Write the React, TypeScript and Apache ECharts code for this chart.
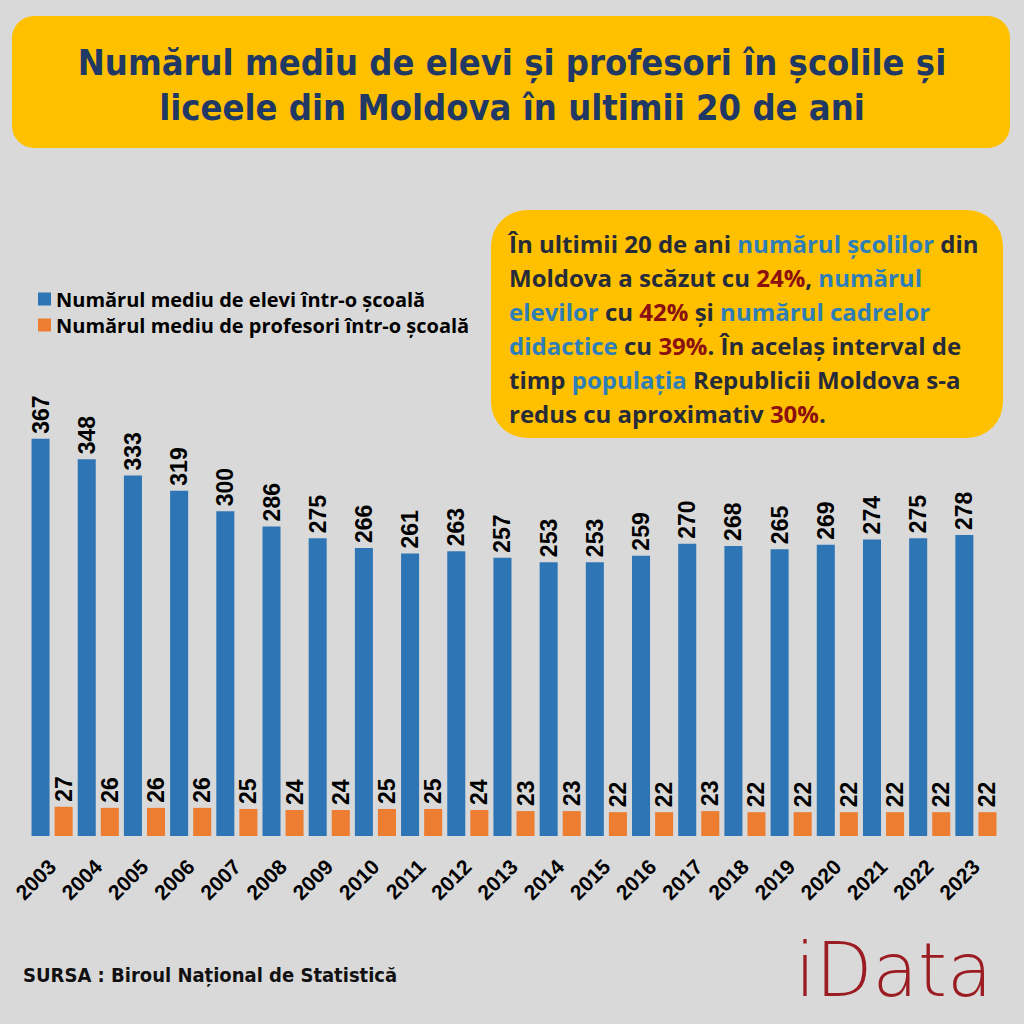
import React, { useEffect, useRef } from "react";
import * as echarts from "echarts";

const years = ["2003","2004","2005","2006","2007","2008","2009","2010","2011","2012","2013","2014","2015","2016","2017","2018","2019","2020","2021","2022","2023"];
const students = [367,348,333,319,300,286,275,266,261,263,257,253,253,259,270,268,265,269,274,275,278];
const teachers = [27,26,26,26,25,24,24,25,25,24,23,23,22,22,23,22,22,22,22,22,22];
const seriesNames = ["Numărul mediu de elevi într-o școală", "Numărul mediu de profesori într-o școală"];
const titleLines = ["Numărul mediu de elevi și profesori în școlile și", "liceele din Moldova în ultimii 20 de ani"];
const noteText =
  "{d|În ultimii 20 de ani }{b|numărul școlilor}{d| din}\n" +
  "{d|Moldova a scăzut cu }{r|24%}{d|, }{b|numărul}\n" +
  "{b|elevilor}{d| cu }{r|42%}{d| și }{b|numărul cadrelor}\n" +
  "{b|didactice}{d| cu }{r|39%}{d|. În acelaș interval de}\n" +
  "{d|timp }{b|populația}{d| Republicii Moldova s-a}\n" +
  "{d|redus cu aproximativ }{r|30%}{d|.}";
const sourceText = "SURSA : Biroul Național de Statistică";
const logoText = "iData";

const BLUE = "#2E75B6";
const ORANGE = "#ED7D31";
const YELLOW = "#FFC000";
const BG = "#D9D9D9";

export default function App() {
  const ref = useRef<HTMLDivElement>(null);
  useEffect(() => {
    document.body.style.margin = "0";
    const chart = echarts.init(ref.current!, null, { renderer: "svg" });
    const labelStyle = {
      show: true,
      position: "top" as const,
      rotate: 90,
      align: "left" as const,
      verticalAlign: "middle" as const,
      distance: 5,
      fontSize: 23,
      fontWeight: "bold" as const,
      color: "#000",
      fontFamily: "Liberation Sans",
    };
    const noteFont = { fontSize: 24, fontWeight: "bold" as const, fontFamily: "Open Sans", lineHeight: 34 };
    chart.setOption({
      animation: false,
      backgroundColor: BG,
      legend: {
        orient: "vertical",
        left: 33,
        top: 284,
        icon: "rect",
        itemWidth: 13,
        itemHeight: 13,
        itemGap: 6,
        textStyle: { fontSize: 20, fontWeight: "bold", color: "#000", fontFamily: "Open Sans" },
        data: seriesNames,
      },
      grid: { left: 29, right: 25, top: 403, bottom: 188, containLabel: false },
      xAxis: {
        type: "category",
        data: years,
        axisLine: { show: false },
        axisTick: { show: false },
        axisLabel: {
          rotate: 45,
          margin: 27,
          fontSize: 21,
          fontWeight: "bold",
          color: "#000",
          fontFamily: "Liberation Sans",
          interval: 0,
        },
      },
      yAxis: { type: "value", min: 0, max: 400, show: false, splitLine: { show: false } },
      series: [
        {
          name: seriesNames[0],
          type: "bar",
          data: students,
          itemStyle: { color: BLUE },
          barGap: "28%",
          barCategoryGap: "11%",
          label: labelStyle,
        },
        {
          name: seriesNames[1],
          type: "bar",
          data: teachers,
          itemStyle: { color: ORANGE },
          label: labelStyle,
        },
      ],
      graphic: [
        { type: "rect", shape: { x: 12, y: 16, width: 998, height: 132, r: 22 }, style: { fill: YELLOW }, z: 0 },
        {
          type: "text",
          x: 512,
          y: 62,
          style: {
            text: titleLines[0],
            fill: "#1F3864",
            fontSize: 36,
            fontWeight: "bold",
            fontFamily: "DejaVu Sans Condensed",
            textAlign: "center",
            textVerticalAlign: "middle",
          },
          z: 1,
        },
        {
          type: "text",
          x: 512,
          y: 107,
          style: {
            text: titleLines[1],
            fill: "#1F3864",
            fontSize: 36,
            fontWeight: "bold",
            fontFamily: "DejaVu Sans Condensed",
            textAlign: "center",
            textVerticalAlign: "middle",
          },
          z: 1,
        },
        { type: "rect", shape: { x: 491, y: 210, width: 512, height: 228, r: 36 }, style: { fill: YELLOW }, z: 10 },
        {
          type: "text",
          x: 509,
          y: 226,
          z: 11,
          style: {
            text: noteText,
            ...noteFont,
            rich: {
              d: { fill: "#262B3A", ...noteFont },
              b: { fill: "#2E7EB8", ...noteFont },
              r: { fill: "#8B1010", ...noteFont },
            },
          },
        },
        {
          type: "text",
          x: 23,
          y: 975,
          style: {
            text: sourceText,
            fill: "#111",
            fontSize: 20,
            fontWeight: "bold",
            fontFamily: "DejaVu Sans Condensed",
            textVerticalAlign: "middle",
          },
        },
        {
          type: "text",
          x: 795,
          y: 970,
          style: {
            text: logoText,
            fill: "#9B1C22",
            fontSize: 74,
            fontWeight: 200,
            fontFamily: "DejaVu Sans",
            textVerticalAlign: "middle",
          },
        },
      ],
    });
    return () => chart.dispose();
  }, []);
  return <div ref={ref} style={{ width: 1024, height: 1024 }} />;
}
